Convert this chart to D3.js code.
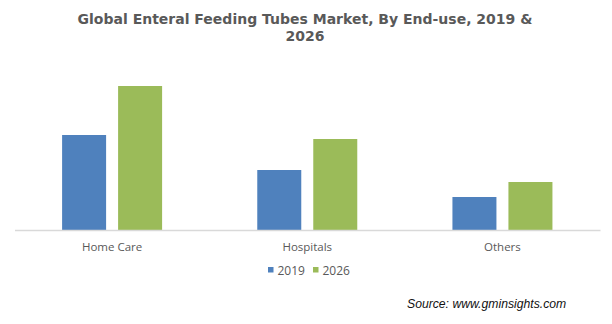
<!DOCTYPE html>
<html>
<head>
<meta charset="utf-8">
<script src="https://cdn.jsdelivr.net/npm/d3@7"></script>
<style>
  body { margin: 0; background: #fff; }
</style>
</head>
<body>
<div class="draw"></div>
<script>
const width = 612
const height = 324

// market size by end-use (relative units)
const categories = ["Home Care", "Hospitals", "Others"]
const years = ["2019", "2026"]
const values2019 = [95, 60, 33]
const values2026 = [144, 91, 48]
const colors = ["#4F81BD", "#9BBB59"]

const titleLines = ["Global Enteral Feeding Tubes Market, By End-use, 2019 &", "2026"]
const sourceText = "Source: www.gminsights.com"

const plotLeft = 14.5
const plotRight = 600
const baseline = 230

let svg = d3.select("div.draw")
    .append("svg")
    .attr("width", width)
    .attr("height", height)

svg.append("rect")
    .attr("width", width)
    .attr("height", height)
    .attr("fill", "#fff")

let rows = categories.map((c, i) => ({category: c, values: [values2019[i], values2026[i]]}))

let x0 = d3.scaleBand()
    .domain(categories)
    .range([plotLeft, plotRight])

let x1 = d3.scaleBand()
    .domain(years)
    .range([47.6, 147.6])
    .paddingInner(12 / 56)

let y = d3.scaleLinear()
    .domain([0, 150])
    .range([baseline, baseline - 150])

// title
svg.append("text")
    .attr("x", 305)
    .attr("y", 24)
    .attr("text-anchor", "middle")
    .style("font-family", "DejaVu Sans")
    .style("font-weight", "bold")
    .style("font-size", "14px")
    .style("fill", "#595959")
  .selectAll("tspan")
    .data(titleLines)
    .enter()
    .append("tspan")
    .attr("x", 305)
    .attr("dy", (d, i) => i === 0 ? 0 : 16.5)
    .text(d => d)

// bars
let groups = svg.selectAll("g.group")
    .data(rows)
    .enter()
    .append("g")
    .attr("class", "group")
    .attr("transform", d => "translate(" + x0(d.category) + ",0)")

groups.selectAll("rect")
    .data(d => d.values.map((v, i) => ({year: years[i], value: v, color: colors[i]})))
    .enter()
    .append("rect")
    .attr("x", d => x1(d.year))
    .attr("y", d => y(d.value))
    .attr("width", x1.bandwidth())
    .attr("height", d => y(0) - y(d.value))
    .attr("fill", d => d.color)

// category axis
let xAxis = svg.append("g")
    .attr("transform", "translate(0," + baseline + ")")
    .call(d3.axisBottom(x0).tickSize(0).tickPadding(13))

xAxis.select(".domain")
    .attr("stroke", "#D9D9D9")
    .attr("stroke-width", 1.3)

xAxis.selectAll("text")
    .style("font-family", "Open Sans")
    .style("font-size", "11.5px")
    .style("fill", "#595959")

// legend
let legend = svg.selectAll("g.legend")
    .data(years)
    .enter()
    .append("g")
    .attr("class", "legend")
    .attr("transform", (d, i) => "translate(" + (268 + i * 45) + ",266)")

legend.append("rect")
    .attr("width", 5.5)
    .attr("height", 5.5)
    .attr("y", 1)
    .attr("fill", (d, i) => colors[i])

legend.append("text")
    .attr("x", 9.5)
    .attr("y", 9)
    .style("font-family", "Open Sans")
    .style("font-size", "12px")
    .style("fill", "#595959")
    .text(d => d)

// source note
svg.append("text")
    .attr("x", 407)
    .attr("y", 308)
    .style("font-family", "Liberation Sans")
    .style("font-style", "italic")
    .style("font-size", "12.2px")
    .style("fill", "#111")
    .text(sourceText)
</script>
</body>
</html>
